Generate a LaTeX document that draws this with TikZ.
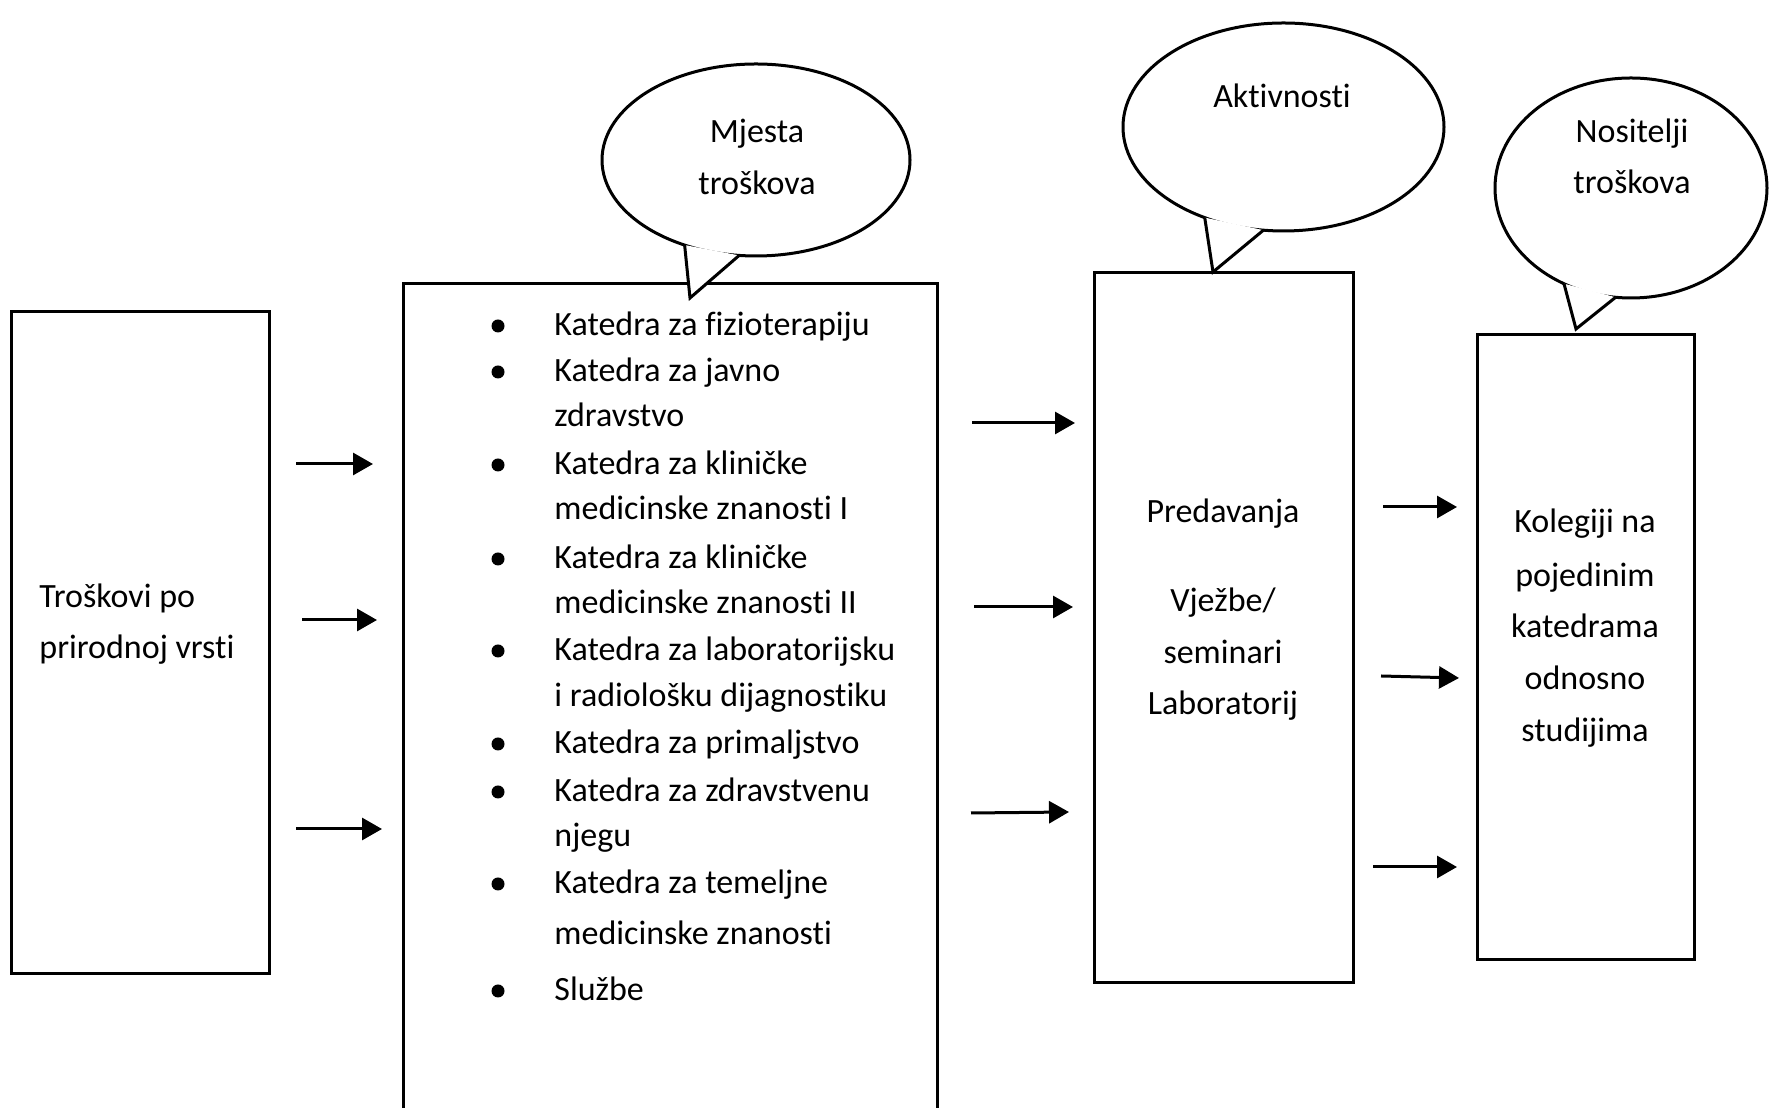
\documentclass[tikz,border=0pt]{standalone}
\usepackage{fontspec}
\setmainfont{Carlito}[Ligatures=NoCommon]
\usetikzlibrary{positioning}
\usetikzlibrary{shapes.geometric}
\usetikzlibrary{arrows.meta}

\begin{document}
\begin{tikzpicture}
  [
    x=0.5pt, y=0.5pt,
    box/.style={draw=black, line width=1.5pt, inner sep=0pt},
    bubble/.style={ellipse, draw=black, fill=white, line width=1.5pt,
      inner sep=0pt, outer sep=0pt},
    txt/.style={inner sep=0pt, font=\fontsize{17}{20}\selectfont},
    dot/.style={circle, fill=black, inner sep=0pt, minimum size=6.5pt},
    ar/.style={line width=1.5pt, -{Triangle[length=10pt,width=11pt]}}
  ]

  \useasboundingbox (0,0) rectangle (1773,1108);
  \clip (0,0) rectangle (1773,1108);

  % boxes
  \node (vrsta)  at (140,465)      [box, minimum width=129pt,   minimum height=331pt]   {};
  \node (mjesta) at (670,397)      [box, minimum width=267pt,   minimum height=427pt]   {};
  \node (aktiv)  at (1223.5,480)   [box, minimum width=129.5pt, minimum height=355pt]   {};
  \node (nosit)  at (1585.5,460.5) [box, minimum width=108.5pt, minimum height=312.5pt] {};

  \node (v1) at (39,500) [txt, anchor=base west] {Troškovi po};
  \node (v2) at (39,449) [txt, anchor=base west] {prirodnoj vrsti};

  % list of departments
  \node (d1) at (498,782) [dot] {};
  \node (d2) at (498,736) [dot] {};
  \node (d3) at (498,643) [dot] {};
  \node (d4) at (498,549) [dot] {};
  \node (d5) at (498,457) [dot] {};
  \node (d6) at (498,364) [dot] {};
  \node (d7) at (498,316) [dot] {};
  \node (d8) at (498,224) [dot] {};
  \node (d9) at (498,117) [dot] {};

  \node (m1)  at (554,772) [txt, anchor=base west] {Katedra za fizioterapiju};
  \node (m2)  at (554,726) [txt, anchor=base west] {Katedra za javno};
  \node (m3)  at (554,681) [txt, anchor=base west] {zdravstvo};
  \node (m4)  at (554,633) [txt, anchor=base west] {Katedra za kliničke};
  \node (m5)  at (554,588) [txt, anchor=base west] {medicinske znanosti I};
  \node (m6)  at (554,539) [txt, anchor=base west] {Katedra za kliničke};
  \node (m7)  at (554,494) [txt, anchor=base west] {medicinske znanosti II};
  \node (m8)  at (554,447) [txt, anchor=base west] {Katedra za laboratorijsku};
  \node (m9)  at (554,401) [txt, anchor=base west] {i radiološku dijagnostiku};
  \node (m10) at (554,354) [txt, anchor=base west] {Katedra za primaljstvo};
  \node (m11) at (554,306) [txt, anchor=base west] {Katedra za zdravstvenu};
  \node (m12) at (554,261) [txt, anchor=base west] {njegu};
  \node (m13) at (554,214) [txt, anchor=base west] {Katedra za temeljne};
  \node (m14) at (554,163) [txt, anchor=base west] {medicinske znanosti};
  \node (m15) at (554,107) [txt, anchor=base west] {Službe};

  \node (a1) at (1223,585) [txt, anchor=base] {Predavanja};
  \node (a2) at (1223,496) [txt, anchor=base] {Vježbe/};
  \node (a3) at (1223,444) [txt, anchor=base] {seminari};
  \node (a4) at (1223,393) [txt, anchor=base] {Laboratorij};

  \node (n1) at (1585,575) [txt, anchor=base] {Kolegiji na};
  \node (n2) at (1585,521) [txt, anchor=base] {pojedinim};
  \node (n3) at (1585,470) [txt, anchor=base] {katedrama};
  \node (n4) at (1585,418) [txt, anchor=base] {odnosno};
  \node (n5) at (1585,366) [txt, anchor=base] {studijima};

  % callouts
  \node (bm) at (756,948)    [bubble, minimum width=154pt,   minimum height=96pt]  {};
  \node (ba) at (1283.5,981) [bubble, minimum width=160.5pt, minimum height=104pt] {};
  \node (bn) at (1631,920)   [bubble, minimum width=136pt,   minimum height=110pt] {};

  \coordinate (tm) at (690,810);
  \coordinate (ta) at (1213,836);
  \coordinate (tn) at (1576,779);

  \fill[white] (bm.230) -- (tm) -- (bm.260) -- cycle;
  \draw[line width=1.5pt] (bm.230) -- (tm) -- (bm.260);
  \fill[white] (ba.229) -- (ta) -- (ba.259) -- cycle;
  \draw[line width=1.5pt] (ba.229) -- (ta) -- (ba.259);
  \fill[white] (bn.235) -- (tn) -- (bn.262) -- cycle;
  \draw[line width=1.5pt] (bn.235) -- (tn) -- (bn.262);

  \node (bm1) at (757,965)   [txt, anchor=base] {Mjesta};
  \node (bm2) at (757,913)   [txt, anchor=base] {troškova};
  \node (ba1) at (1282,1000) [txt, anchor=base] {Aktivnosti};
  \node (bn1) at (1632,965)  [txt, anchor=base] {Nositelji};
  \node (bn2) at (1632,914)  [txt, anchor=base] {troškova};

  % arrows
  \coordinate (p1) at (296,644);  \coordinate (q1) at (373,644);
  \coordinate (p2) at (302,488);  \coordinate (q2) at (377,488);
  \coordinate (p3) at (296,279);  \coordinate (q3) at (382,279);
  \coordinate (p4) at (972,685);  \coordinate (q4) at (1075,685);
  \coordinate (p5) at (974,501);  \coordinate (q5) at (1073,501);
  \coordinate (p6) at (971,295);  \coordinate (q6) at (1069,296);
  \coordinate (p7) at (1383,601); \coordinate (q7) at (1457,601);
  \coordinate (p8) at (1381,432); \coordinate (q8) at (1459,430);
  \coordinate (p9) at (1373,241); \coordinate (q9) at (1457,241);

  \draw[ar] (p1) -- (q1);
  \draw[ar] (p2) -- (q2);
  \draw[ar] (p3) -- (q3);
  \draw[ar] (p4) -- (q4);
  \draw[ar] (p5) -- (q5);
  \draw[ar] (p6) -- (q6);
  \draw[ar] (p7) -- (q7);
  \draw[ar] (p8) -- (q8);
  \draw[ar] (p9) -- (q9);
\end{tikzpicture}
\end{document}
